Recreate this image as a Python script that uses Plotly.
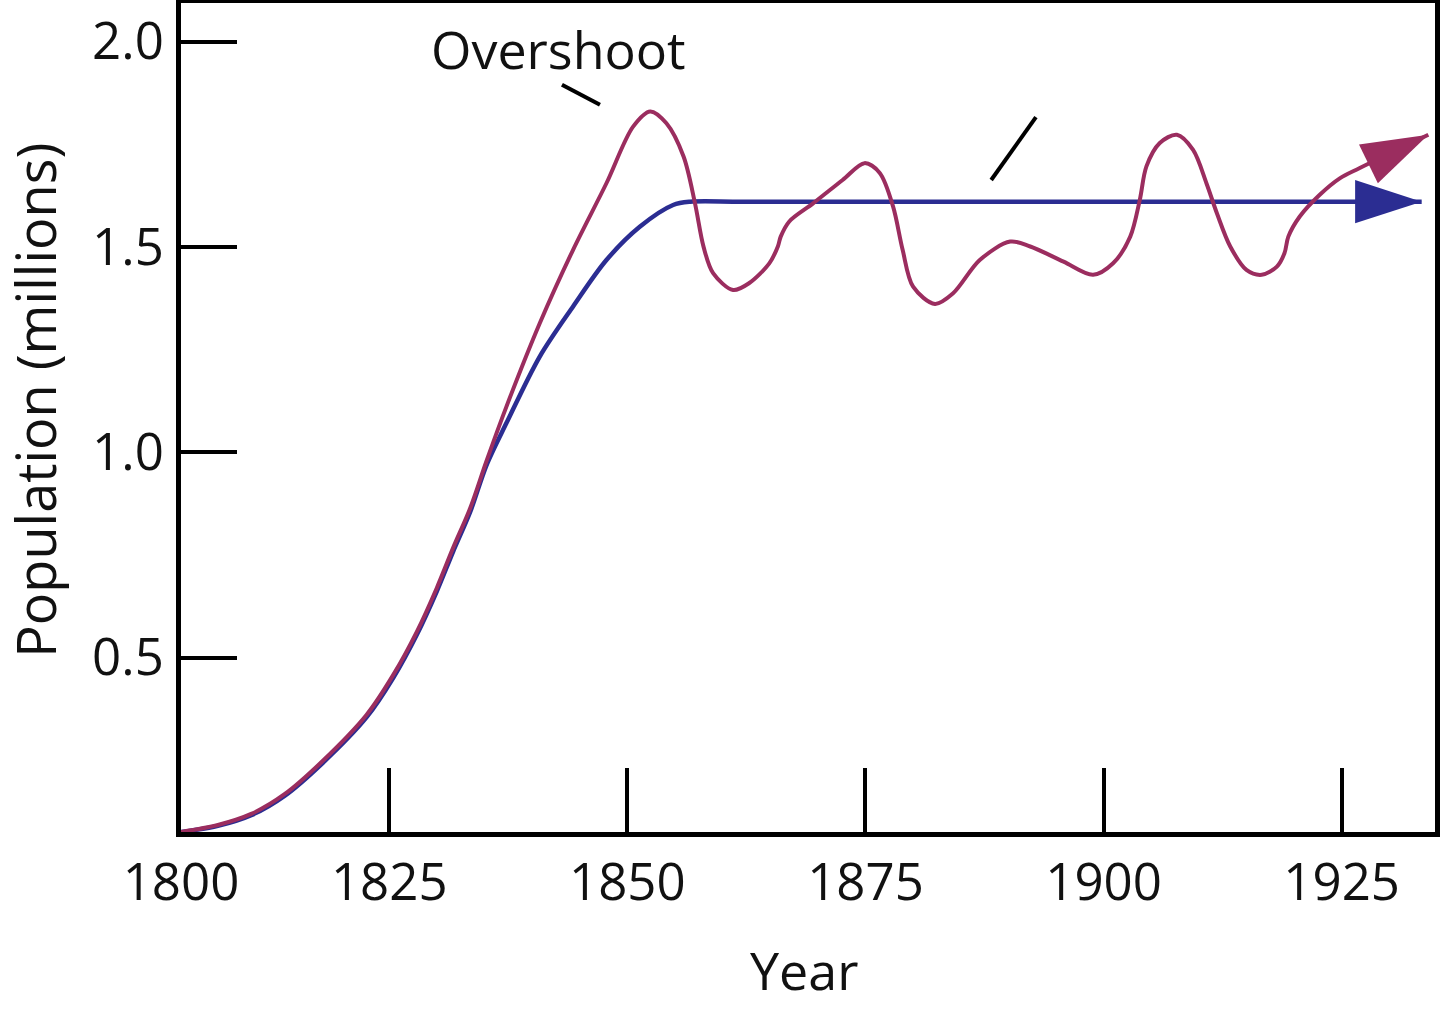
import plotly.graph_objects as go

# logistic growth (blue) - year / population in millions
blue_years = [1803.13, 1807.0, 1810.5, 1814.0, 1818.0, 1822.6, 1825.4, 1827.9, 1830.0,
              1831.7, 1833.5, 1835.2, 1837.3, 1840.8, 1844.3, 1847.8, 1851.3, 1854.8,
              1856.6, 1862.0, 1885.0, 1910.0, 1933.4]
blue_pop = [0.075, 0.090, 0.116, 0.163, 0.243, 0.354, 0.450, 0.556, 0.662,
            0.758, 0.855, 0.968, 1.071, 1.233, 1.355, 1.468, 1.549, 1.602,
            1.610, 1.610, 1.610, 1.610, 1.610]

# overshoot + oscillation (red)
red_years = [1803.13, 1807.0, 1810.5, 1814.0, 1818.0, 1822.6, 1825.4, 1827.9, 1830.0,
             1831.7, 1833.5, 1835.2, 1837.3, 1840.8, 1844.3, 1847.8, 1850.6, 1852.4,
             1854.1, 1855.9, 1857.1, 1858.0, 1859.0, 1861.1, 1862.8, 1864.9, 1865.8,
             1866.1, 1867.0, 1869.5, 1872.6, 1874.9, 1876.5, 1877.9, 1878.9, 1880.0,
             1882.3, 1884.2, 1887.0, 1890.2, 1892.3, 1895.8, 1898.9, 1901.0, 1902.8,
             1903.8, 1904.5, 1905.9, 1907.7, 1909.4, 1910.8, 1911.9, 1913.3, 1915.0,
             1916.6, 1918.2, 1919.0, 1919.4, 1920.6, 1922.7, 1924.8, 1926.9, 1934.1]
red_pop = [0.075, 0.092, 0.119, 0.167, 0.248, 0.360, 0.457, 0.563, 0.670,
           0.767, 0.864, 0.978, 1.111, 1.314, 1.493, 1.655, 1.793, 1.830,
           1.801, 1.720, 1.606, 1.500, 1.436, 1.395, 1.412, 1.460, 1.501,
           1.525, 1.562, 1.606, 1.663, 1.704, 1.680, 1.598, 1.493, 1.403,
           1.361, 1.387, 1.468, 1.513, 1.501, 1.464, 1.432, 1.460, 1.525,
           1.614, 1.696, 1.753, 1.773, 1.736, 1.655, 1.582, 1.501, 1.444,
           1.432, 1.452, 1.485, 1.525, 1.574, 1.627, 1.667, 1.692, 1.773]

x_tick_pos = [1803.13, 1825, 1850, 1875, 1900, 1925]
x_tick_text = ["1800", "1825", "1850", "1875", "1900", "1925"]
y_tick_pos = [0.5, 1.0, 1.5, 2.0]
y_tick_text = ["0.5", "1.0", "1.5", "2.0"]

# leader lines (x0, y0, x1, y1)
leaders = [(1843.13, 1.895, 1847.12, 1.846), (1888.2, 1.663, 1892.9, 1.816)]

BLUE = "#2b2d92"
RED = "#9b2d5f"
FONT = "Open Sans"


def arrow_sizes(n, size):
    return [0] * (n - 1) + [size]


fig = go.Figure()

fig.add_trace(go.Scatter(
    x=blue_years, y=blue_pop, mode="lines+markers",
    line=dict(color=BLUE, width=4.5, shape="spline", smoothing=0.9),
    marker=dict(symbol="arrow", angleref="previous", color=BLUE, opacity=1,
                size=arrow_sizes(len(blue_years), 70), line=dict(width=0)),
    showlegend=False, hoverinfo="skip"
))
fig.add_trace(go.Scatter(
    x=red_years, y=red_pop, mode="lines+markers",
    line=dict(color=RED, width=4, shape="spline", smoothing=0.9),
    marker=dict(symbol="arrow", angleref="previous", color=RED, opacity=1,
                size=arrow_sizes(len(red_years), 70), line=dict(width=0)),
    showlegend=False, hoverinfo="skip"
))

for x0, y0, x1, y1 in leaders:
    fig.add_shape(type="line", xref="x", yref="y", x0=x0, y0=y0, x1=x1, y1=y1,
                  line=dict(color="black", width=4))

fig.add_annotation(text="Overshoot", x=1842.8, y=1.982, xref="x", yref="y",
                   showarrow=False, font=dict(family=FONT, size=52, color="#111"))
fig.add_annotation(text="Year", x=0.497, y=-0.166, xref="paper", yref="paper",
                   xanchor="center", yanchor="middle",
                   showarrow=False, font=dict(family=FONT, size=52, color="#111"))
fig.add_annotation(text="Population (millions)", x=-0.116, y=0.521, xref="paper", yref="paper",
                   xanchor="center", yanchor="middle", textangle=-90,
                   showarrow=False, font=dict(family=FONT, size=54, color="#111"))

axis_common = dict(showline=True, linecolor="black", linewidth=5, mirror=True,
                   ticks="inside", tickcolor="black", tickwidth=4,
                   showgrid=False, zeroline=False, automargin=False,
                   tickfont=dict(family=FONT, size=51, color="#111"))

fig.update_xaxes(range=[1803.13, 1934.8], tickmode="array", tickvals=x_tick_pos,
                 ticktext=x_tick_text, ticklen=64, ticklabelstandoff=2, **axis_common)
fig.update_yaxes(range=[0.075, 2.094], tickmode="array", tickvals=y_tick_pos,
                 ticktext=y_tick_text, ticklen=56, ticklabelstandoff=2, **axis_common)

fig.update_layout(
    width=1440, height=1013,
    margin=dict(l=181, r=5, t=3, b=181),
    plot_bgcolor="white", paper_bgcolor="white",
)

# drop the browser's default body margin so the figure sits at the page corner
fig.write_html("out.html", config={"displayModeBar": False},
               post_script="document.body.style.margin='0';document.body.style.padding='0';")
